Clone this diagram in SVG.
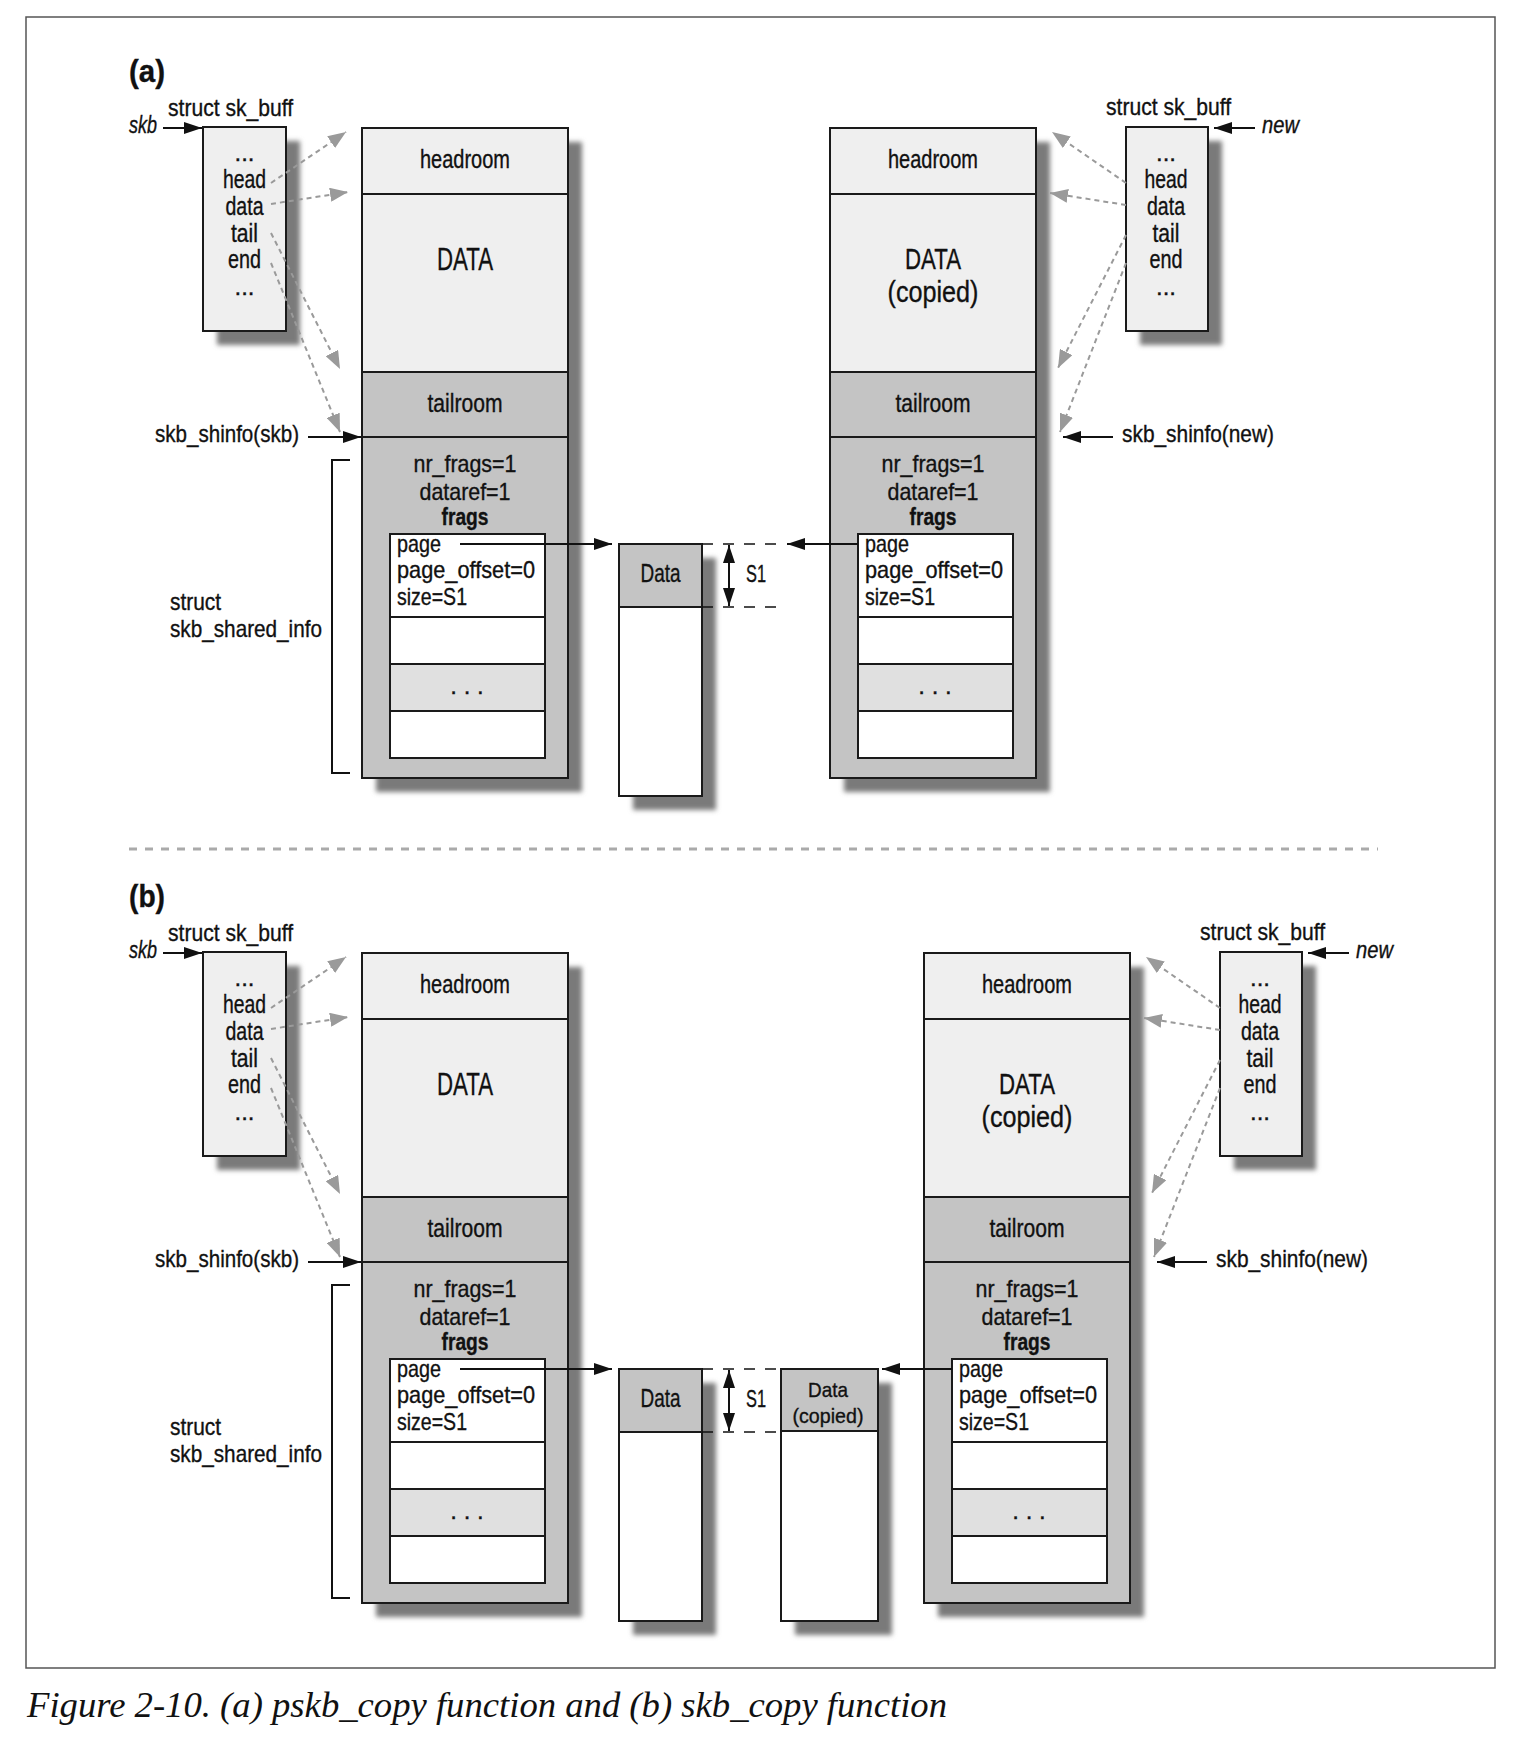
<svg xmlns="http://www.w3.org/2000/svg" width="1528" height="1742" viewBox="0 0 1528 1742">
<defs>
<filter id="blur" x="-30%" y="-30%" width="160%" height="160%"><feGaussianBlur stdDeviation="2.5"/></filter>
<marker id="ba" viewBox="0 0 18 12" refX="18" refY="6" markerWidth="18" markerHeight="12" markerUnits="userSpaceOnUse" orient="auto-start-reverse"><path d="M0,0 L18,6 L0,12 z" fill="#111"/></marker>
<marker id="ga" viewBox="0 0 18 14" refX="18" refY="7" markerWidth="18" markerHeight="14" markerUnits="userSpaceOnUse" orient="auto"><path d="M0,0 L18,7 L0,14 z" fill="#9a9a9a"/></marker>
</defs>
<style>
.t{font-family:"Liberation Sans Narrow","Liberation Sans",Arial,sans-serif;font-size:24px;fill:#111;stroke:#111;stroke-width:0.35px}
.s21{font-size:21px}
.s25{font-size:25px}
.s30{font-size:30px}
.s32{font-size:32px}
.c{text-anchor:middle}
.b{font-weight:bold}
.i{font-style:italic}
.box{stroke:#1a1a1a;stroke-width:2}
.lt{fill:#efefef}
.md{fill:#c4c4c4}
.wh{fill:#fff}
.dt{fill:#e0e0e0}
.sh{fill:#7a7a7a;filter:url(#blur)}
.dot{stroke:#9a9a9a;stroke-width:2;stroke-dasharray:5 4;fill:none;marker-end:url(#ga)}
.sol{stroke:#111;stroke-width:2;fill:none;marker-end:url(#ba)}
.dbl{stroke:#111;stroke-width:2;fill:none;marker-end:url(#ba);marker-start:url(#ba)}
.dash{stroke:#111;stroke-width:1.6;stroke-dasharray:11 10;fill:none}
.brk{stroke:#111;stroke-width:2;fill:none}
.cap{font-family:"Liberation Serif","Times New Roman",serif;font-style:italic;font-size:35px;fill:#111}
</style>
<rect x="0" y="0" width="1528" height="1742" fill="#fff"/>
<rect id="frame" x="26" y="17" width="1469" height="1651" fill="none" stroke="#555" stroke-width="1.5"/>
<line id="separator" x1="129" y1="849" x2="1378" y2="849" stroke="#aaa" stroke-width="3" stroke-dasharray="8 8"/>

<!-- ===== (a) ===== -->
<g id="label-a"><text class="t b s32" x="129" y="82" textLength="36" lengthAdjust="spacingAndGlyphs">(a)</text></g>

<g id="a-skb-label">
<text class="t" x="168" y="116" textLength="125" lengthAdjust="spacingAndGlyphs">struct sk_buff</text>
<text class="t i" x="129" y="133" textLength="28" lengthAdjust="spacingAndGlyphs">skb</text>
</g>
<g id="a-skb-box" transform="translate(203,127)">
<rect class="sh" x="14" y="14" width="83" height="204"/>
<rect class="box lt" x="0" y="0" width="83" height="204"/>
<text class="t c" x="41.5" y="34">...</text>
<text class="t c s25" x="41.5" y="61" textLength="43" lengthAdjust="spacingAndGlyphs">head</text>
<text class="t c s25" x="41.5" y="88" textLength="38" lengthAdjust="spacingAndGlyphs">data</text>
<text class="t c s25" x="41.5" y="115" textLength="27" lengthAdjust="spacingAndGlyphs">tail</text>
<text class="t c s25" x="41.5" y="141" textLength="33" lengthAdjust="spacingAndGlyphs">end</text>
<text class="t c" x="41.5" y="168">...</text>
</g>

<g id="a-main-left" transform="translate(362,128)">
<rect class="sh" x="14" y="14" width="206" height="650"/>
<rect class="box lt" x="0" y="0" width="206" height="66"/>
<rect class="box lt" x="0" y="66" width="206" height="178"/>
<rect class="box md" x="0" y="244" width="206" height="65"/>
<rect class="box md" x="0" y="309" width="206" height="341"/>
<rect class="box wh" x="28" y="406" width="155" height="83"/>
<rect class="box wh" x="28" y="489" width="155" height="47"/>
<rect class="box dt" x="28" y="536" width="155" height="47"/>
<rect class="box wh" x="28" y="583" width="155" height="47"/>
<text class="t c s25" x="103" y="40" textLength="90" lengthAdjust="spacingAndGlyphs">headroom</text>
<text class="t c s32" x="103" y="142" textLength="56" lengthAdjust="spacingAndGlyphs">DATA</text>
<text class="t c s25" x="103" y="284" textLength="75" lengthAdjust="spacingAndGlyphs">tailroom</text>
<text class="t c" x="103" y="344" textLength="103" lengthAdjust="spacingAndGlyphs">nr_frags=1</text>
<text class="t c" x="103" y="372" textLength="91" lengthAdjust="spacingAndGlyphs">dataref=1</text>
<text class="t c b" x="103" y="397" textLength="47" lengthAdjust="spacingAndGlyphs">frags</text>
<text class="t" x="35" y="424" textLength="44" lengthAdjust="spacingAndGlyphs">page</text>
<text class="t" x="35" y="450" textLength="138" lengthAdjust="spacingAndGlyphs">page_offset=0</text>
<text class="t" x="35" y="477" textLength="70" lengthAdjust="spacingAndGlyphs">size=S1</text>
<text class="t c" x="105" y="566">. . .</text>
</g>

<g id="a-shinfo-skb-label"><text class="t" x="155" y="442" textLength="144" lengthAdjust="spacingAndGlyphs">skb_shinfo(skb)</text></g>
<g id="a-shared-info-label">
<path class="brk" d="M350,460 H332 V773 H350"/>
<text class="t" x="170" y="610" textLength="51" lengthAdjust="spacingAndGlyphs">struct</text>
<text class="t" x="170" y="637" textLength="152" lengthAdjust="spacingAndGlyphs">skb_shared_info</text>
</g>

<g id="a-data-page" transform="translate(619,544)">
<rect class="sh" x="14" y="14" width="83" height="252"/>
<rect class="box md" x="0" y="0" width="83" height="63"/>
<rect class="box wh" x="0" y="63" width="83" height="189"/>
<text class="t c s25" x="41.5" y="38" textLength="40" lengthAdjust="spacingAndGlyphs">Data</text>
</g>
<g id="a-s1">
<path class="dash" d="M702,544 H777 M702,607 H777"/>
<text class="t" x="746" y="582" textLength="20" lengthAdjust="spacingAndGlyphs">S1</text>
</g>

<g id="a-main-right" transform="translate(830,128)">
<rect class="sh" x="14" y="14" width="206" height="650"/>
<rect class="box lt" x="0" y="0" width="206" height="66"/>
<rect class="box lt" x="0" y="66" width="206" height="178"/>
<rect class="box md" x="0" y="244" width="206" height="65"/>
<rect class="box md" x="0" y="309" width="206" height="341"/>
<rect class="box wh" x="28" y="406" width="155" height="83"/>
<rect class="box wh" x="28" y="489" width="155" height="47"/>
<rect class="box dt" x="28" y="536" width="155" height="47"/>
<rect class="box wh" x="28" y="583" width="155" height="47"/>
<text class="t c s25" x="103" y="40" textLength="90" lengthAdjust="spacingAndGlyphs">headroom</text>
<text class="t c s30" x="103" y="141" textLength="56" lengthAdjust="spacingAndGlyphs">DATA</text>
<text class="t c s30" x="103" y="174" textLength="91" lengthAdjust="spacingAndGlyphs">(copied)</text>
<text class="t c s25" x="103" y="284" textLength="75" lengthAdjust="spacingAndGlyphs">tailroom</text>
<text class="t c" x="103" y="344" textLength="103" lengthAdjust="spacingAndGlyphs">nr_frags=1</text>
<text class="t c" x="103" y="372" textLength="91" lengthAdjust="spacingAndGlyphs">dataref=1</text>
<text class="t c b" x="103" y="397" textLength="47" lengthAdjust="spacingAndGlyphs">frags</text>
<text class="t" x="35" y="424" textLength="44" lengthAdjust="spacingAndGlyphs">page</text>
<text class="t" x="35" y="450" textLength="138" lengthAdjust="spacingAndGlyphs">page_offset=0</text>
<text class="t" x="35" y="477" textLength="70" lengthAdjust="spacingAndGlyphs">size=S1</text>
<text class="t c" x="105" y="566">. . .</text>
</g>

<g id="a-new-label">
<text class="t" x="1106" y="115" textLength="125" lengthAdjust="spacingAndGlyphs">struct sk_buff</text>
<text class="t i" x="1262" y="133" textLength="37" lengthAdjust="spacingAndGlyphs">new</text>
</g>
<g id="a-new-box" transform="translate(1126,127)">
<rect class="sh" x="14" y="14" width="82" height="204"/>
<rect class="box lt" x="0" y="0" width="82" height="204"/>
<text class="t c" x="40" y="34">...</text>
<text class="t c s25" x="40" y="61" textLength="43" lengthAdjust="spacingAndGlyphs">head</text>
<text class="t c s25" x="40" y="88" textLength="38" lengthAdjust="spacingAndGlyphs">data</text>
<text class="t c s25" x="40" y="115" textLength="27" lengthAdjust="spacingAndGlyphs">tail</text>
<text class="t c s25" x="40" y="141" textLength="33" lengthAdjust="spacingAndGlyphs">end</text>
<text class="t c" x="40" y="168">...</text>
</g>
<g id="a-shinfo-new-label"><text class="t" x="1122" y="442" textLength="152" lengthAdjust="spacingAndGlyphs">skb_shinfo(new)</text></g>

<!-- ===== (b) ===== -->
<g id="label-b"><text class="t b s32" x="129" y="907" textLength="36" lengthAdjust="spacingAndGlyphs">(b)</text></g>

<g id="b-skb-label">
<text class="t" x="168" y="941" textLength="125" lengthAdjust="spacingAndGlyphs">struct sk_buff</text>
<text class="t i" x="129" y="958" textLength="28" lengthAdjust="spacingAndGlyphs">skb</text>
</g>
<g id="b-skb-box" transform="translate(203,952)">
<rect class="sh" x="14" y="14" width="83" height="204"/>
<rect class="box lt" x="0" y="0" width="83" height="204"/>
<text class="t c" x="41.5" y="34">...</text>
<text class="t c s25" x="41.5" y="61" textLength="43" lengthAdjust="spacingAndGlyphs">head</text>
<text class="t c s25" x="41.5" y="88" textLength="38" lengthAdjust="spacingAndGlyphs">data</text>
<text class="t c s25" x="41.5" y="115" textLength="27" lengthAdjust="spacingAndGlyphs">tail</text>
<text class="t c s25" x="41.5" y="141" textLength="33" lengthAdjust="spacingAndGlyphs">end</text>
<text class="t c" x="41.5" y="168">...</text>
</g>

<g id="b-main-left" transform="translate(362,953)">
<rect class="sh" x="14" y="14" width="206" height="650"/>
<rect class="box lt" x="0" y="0" width="206" height="66"/>
<rect class="box lt" x="0" y="66" width="206" height="178"/>
<rect class="box md" x="0" y="244" width="206" height="65"/>
<rect class="box md" x="0" y="309" width="206" height="341"/>
<rect class="box wh" x="28" y="406" width="155" height="83"/>
<rect class="box wh" x="28" y="489" width="155" height="47"/>
<rect class="box dt" x="28" y="536" width="155" height="47"/>
<rect class="box wh" x="28" y="583" width="155" height="47"/>
<text class="t c s25" x="103" y="40" textLength="90" lengthAdjust="spacingAndGlyphs">headroom</text>
<text class="t c s32" x="103" y="142" textLength="56" lengthAdjust="spacingAndGlyphs">DATA</text>
<text class="t c s25" x="103" y="284" textLength="75" lengthAdjust="spacingAndGlyphs">tailroom</text>
<text class="t c" x="103" y="344" textLength="103" lengthAdjust="spacingAndGlyphs">nr_frags=1</text>
<text class="t c" x="103" y="372" textLength="91" lengthAdjust="spacingAndGlyphs">dataref=1</text>
<text class="t c b" x="103" y="397" textLength="47" lengthAdjust="spacingAndGlyphs">frags</text>
<text class="t" x="35" y="424" textLength="44" lengthAdjust="spacingAndGlyphs">page</text>
<text class="t" x="35" y="450" textLength="138" lengthAdjust="spacingAndGlyphs">page_offset=0</text>
<text class="t" x="35" y="477" textLength="70" lengthAdjust="spacingAndGlyphs">size=S1</text>
<text class="t c" x="105" y="566">. . .</text>
</g>

<g id="b-shinfo-skb-label"><text class="t" x="155" y="1267" textLength="144" lengthAdjust="spacingAndGlyphs">skb_shinfo(skb)</text></g>
<g id="b-shared-info-label">
<path class="brk" d="M350,1285 H332 V1598 H350"/>
<text class="t" x="170" y="1435" textLength="51" lengthAdjust="spacingAndGlyphs">struct</text>
<text class="t" x="170" y="1462" textLength="152" lengthAdjust="spacingAndGlyphs">skb_shared_info</text>
</g>

<g id="b-data-page" transform="translate(619,1369)">
<rect class="sh" x="14" y="14" width="83" height="252"/>
<rect class="box md" x="0" y="0" width="83" height="63"/>
<rect class="box wh" x="0" y="63" width="83" height="189"/>
<text class="t c s25" x="41.5" y="38" textLength="40" lengthAdjust="spacingAndGlyphs">Data</text>
</g>
<g id="b-s1">
<path class="dash" d="M702,1369 H777 M702,1432 H777"/>
<text class="t" x="746" y="1407" textLength="20" lengthAdjust="spacingAndGlyphs">S1</text>
</g>
<g id="b-data-copied" transform="translate(781,1369)">
<rect class="sh" x="14" y="14" width="97" height="252"/>
<rect class="box md" x="0" y="0" width="97" height="62"/>
<rect class="box wh" x="0" y="62" width="97" height="190"/>
<text class="t c s21" x="47" y="28" textLength="40" lengthAdjust="spacingAndGlyphs">Data</text>
<text class="t c s21" x="47" y="54" textLength="71" lengthAdjust="spacingAndGlyphs">(copied)</text>
</g>

<g id="b-main-right" transform="translate(924,953)">
<rect class="sh" x="14" y="14" width="206" height="650"/>
<rect class="box lt" x="0" y="0" width="206" height="66"/>
<rect class="box lt" x="0" y="66" width="206" height="178"/>
<rect class="box md" x="0" y="244" width="206" height="65"/>
<rect class="box md" x="0" y="309" width="206" height="341"/>
<rect class="box wh" x="28" y="406" width="155" height="83"/>
<rect class="box wh" x="28" y="489" width="155" height="47"/>
<rect class="box dt" x="28" y="536" width="155" height="47"/>
<rect class="box wh" x="28" y="583" width="155" height="47"/>
<text class="t c s25" x="103" y="40" textLength="90" lengthAdjust="spacingAndGlyphs">headroom</text>
<text class="t c s30" x="103" y="141" textLength="56" lengthAdjust="spacingAndGlyphs">DATA</text>
<text class="t c s30" x="103" y="174" textLength="91" lengthAdjust="spacingAndGlyphs">(copied)</text>
<text class="t c s25" x="103" y="284" textLength="75" lengthAdjust="spacingAndGlyphs">tailroom</text>
<text class="t c" x="103" y="344" textLength="103" lengthAdjust="spacingAndGlyphs">nr_frags=1</text>
<text class="t c" x="103" y="372" textLength="91" lengthAdjust="spacingAndGlyphs">dataref=1</text>
<text class="t c b" x="103" y="397" textLength="47" lengthAdjust="spacingAndGlyphs">frags</text>
<text class="t" x="35" y="424" textLength="44" lengthAdjust="spacingAndGlyphs">page</text>
<text class="t" x="35" y="450" textLength="138" lengthAdjust="spacingAndGlyphs">page_offset=0</text>
<text class="t" x="35" y="477" textLength="70" lengthAdjust="spacingAndGlyphs">size=S1</text>
<text class="t c" x="105" y="566">. . .</text>
</g>

<g id="b-new-label">
<text class="t" x="1200" y="940" textLength="125" lengthAdjust="spacingAndGlyphs">struct sk_buff</text>
<text class="t i" x="1356" y="958" textLength="37" lengthAdjust="spacingAndGlyphs">new</text>
</g>
<g id="b-new-box" transform="translate(1220,952)">
<rect class="sh" x="14" y="14" width="82" height="204"/>
<rect class="box lt" x="0" y="0" width="82" height="204"/>
<text class="t c" x="40" y="34">...</text>
<text class="t c s25" x="40" y="61" textLength="43" lengthAdjust="spacingAndGlyphs">head</text>
<text class="t c s25" x="40" y="88" textLength="38" lengthAdjust="spacingAndGlyphs">data</text>
<text class="t c s25" x="40" y="115" textLength="27" lengthAdjust="spacingAndGlyphs">tail</text>
<text class="t c s25" x="40" y="141" textLength="33" lengthAdjust="spacingAndGlyphs">end</text>
<text class="t c" x="40" y="168">...</text>
</g>
<g id="b-shinfo-new-label"><text class="t" x="1216" y="1267" textLength="152" lengthAdjust="spacingAndGlyphs">skb_shinfo(new)</text></g>

<!-- ===== connectors ===== -->
<g id="connectors">
<path class="sol" d="M163,128 H202"/>
<path class="sol" d="M1255,128 H1214"/>
<path class="sol" d="M308,437 H361"/>
<path class="sol" d="M1113,437 H1063"/>
<path class="sol" d="M460,544 H612"/>
<path class="sol" d="M858,544 H787"/>
<path class="dbl" d="M729,545 V606"/>
<path class="dot" d="M271,183 L346,132"/>
<path class="dot" d="M271,204 L348,192"/>
<path class="dot" d="M271,233 L340,369"/>
<path class="dot" d="M271,263 L340,432"/>
<path class="dot" d="M1126,183 L1052,132"/>
<path class="dot" d="M1126,205 L1050,193"/>
<path class="dot" d="M1126,235 L1058,368"/>
<path class="dot" d="M1126,263 L1060,432"/>

<path class="sol" d="M163,953 H202"/>
<path class="sol" d="M1349,953 H1308"/>
<path class="sol" d="M308,1262 H361"/>
<path class="sol" d="M1207,1262 H1157"/>
<path class="sol" d="M460,1369 H612"/>
<path class="sol" d="M952,1369 H882"/>
<path class="dbl" d="M729,1370 V1431"/>
<path class="dot" d="M271,1008 L346,957"/>
<path class="dot" d="M271,1029 L348,1017"/>
<path class="dot" d="M271,1058 L340,1194"/>
<path class="dot" d="M271,1088 L340,1257"/>
<path class="dot" d="M1220,1008 L1146,957"/>
<path class="dot" d="M1220,1030 L1144,1018"/>
<path class="dot" d="M1220,1060 L1152,1193"/>
<path class="dot" d="M1220,1088 L1154,1257"/>
</g>

<text id="caption" class="cap" x="27" y="1717" textLength="920" lengthAdjust="spacingAndGlyphs">Figure 2-10. (a) pskb_copy function and (b) skb_copy function</text>
</svg>
